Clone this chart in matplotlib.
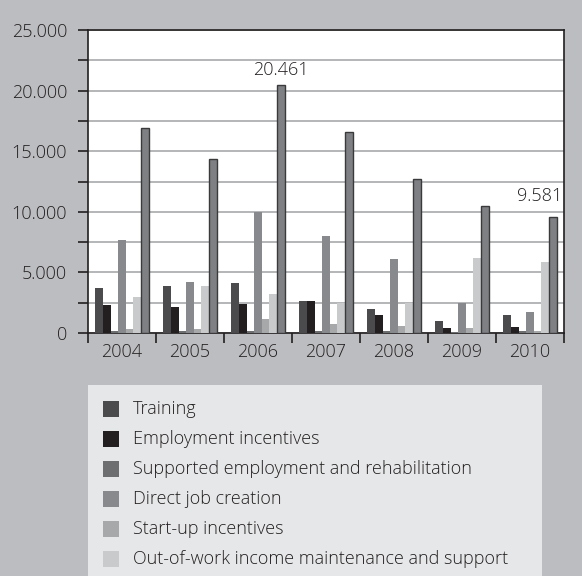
import matplotlib.pyplot as plt
import numpy as np
from matplotlib.patches import Rectangle
from matplotlib.ticker import FuncFormatter

years = ['2004', '2005', '2006', '2007', '2008', '2009', '2010']
training = [3700, 3880, 4100, 2640, 1980, 990, 1485]
employment = [2310, 2145, 2390, 2640, 1485, 410, 495]
supported = [150, 150, 150, 150, 150, 100, 150]
direct = [7650, 4180, 9980, 8000, 6100, 2475, 1730]
startup = [300, 300, 1155, 740, 580, 410, 150]
outofwork = [2970, 3880, 3220, 2500, 2500, 6190, 5860]
total = [16890, 14330, 20461, 16560, 12740, 10450, 9581]

labels = ['Training', 'Employment incentives', 'Supported employment and rehabilitation',
          'Direct job creation', 'Start-up incentives', 'Out-of-work income maintenance and support']
colors = ['#4b4b4d', '#231f20', '#6d6e70', '#88898c', '#a7a8aa', '#c9cacc']

plt.rcParams['font.family'] = ['Open Sans', 'DejaVu Sans']
plt.rcParams['font.weight'] = 'light'
dark = '#231f20'
fs = 13

fig = plt.figure(figsize=(5.82, 5.76), dpi=100, facecolor='#bcbdc0')
ax = fig.add_axes([88/582, 1-333/576, 476/582, 303/576])

series = [training, employment, supported, direct, startup, outofwork]
x = np.arange(len(years))
w = 0.112
for j, vals in enumerate(series):
    ax.bar(x + (j - 3) * w, vals, w, color=colors[j], linewidth=0, zorder=3)
ax.bar(x + 3 * w, total, w, color='#7f8083', edgecolor='#3a3a3c', linewidth=1.0, zorder=3)

# labels on the peak and last value
ax.annotate('20.461', (x[2] + 3 * w, total[2]), xytext=(0, 6), textcoords='offset pixels',
            ha='center', va='bottom', fontsize=fs, color=dark)
ax.annotate('9.581', (x[6] + 3 * w, total[6]), xytext=(10, 12), textcoords='offset pixels',
            ha='right', va='bottom', fontsize=fs, color=dark)

ax.set_ylim(0, 25000)
ax.set_xlim(-0.5, 6.5)
ax.set_yticks(np.arange(0, 25001, 2500))
ax.yaxis.set_major_formatter(FuncFormatter(lambda v, p: '' if v % 5000 else ('0' if v == 0 else f'{int(v):,}'.replace(',', '.'))))
ax.grid(axis='y', color='#b4b5b7', linewidth=1.4, zorder=0)
ax.set_xticks(np.arange(-0.5, 7, 1))
ax.set_xticklabels([])
ax.set_xticks(x, minor=True)
ax.set_xticklabels(years, minor=True)
ax.tick_params(axis='x', which='major', direction='out', length=7, width=1.2, color=dark)
ax.tick_params(axis='x', which='minor', length=0, pad=7, labelsize=fs, labelcolor=dark)
ax.tick_params(axis='y', direction='out', length=7, width=1.2, color=dark, pad=8,
               labelsize=fs, labelcolor=dark)
for s in ax.spines.values():
    s.set_color(dark)
    s.set_linewidth(1.2)
ax.set_facecolor('white')

# legend panel
fig.patches.append(Rectangle((88/582, 0), 454/582, 1-385/576, transform=fig.transFigure,
                             facecolor='#e6e7e8', edgecolor='none', zorder=0))
for k, (lab, c) in enumerate(zip(labels, colors)):
    yc = 1 - (409 + 30 * k) / 576
    fig.patches.append(Rectangle((103/582, yc - 8/576), 16/582, 16/576, transform=fig.transFigure,
                                 facecolor=c, edgecolor='none', zorder=1))
    fig.text(133/582, yc, lab, fontsize=fs, color=dark, va='center', ha='left')

fig.savefig('out.png', dpi=100, facecolor=fig.get_facecolor())
